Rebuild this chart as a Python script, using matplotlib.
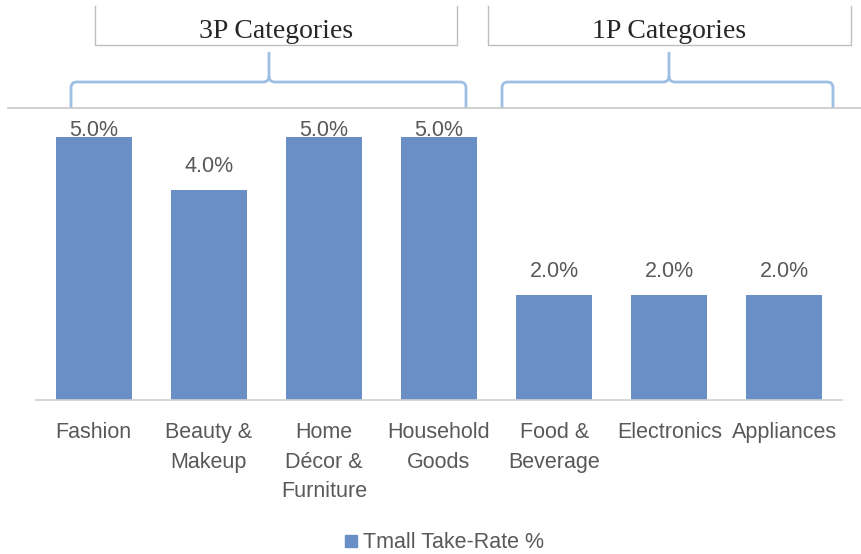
import matplotlib
matplotlib.use("Agg")
import matplotlib.pyplot as plt
from matplotlib.path import Path
from matplotlib.patches import PathPatch, Rectangle

categories = ["Fashion", "Beauty &\nMakeup", "Home\nDécor &\nFurniture", "Household\nGoods",
              "Food &\nBeverage", "Electronics", "Appliances"]
values = [5.0, 4.0, 5.0, 5.0, 2.0, 2.0, 2.0]
series_name = "Tmall Take-Rate %"
groups = ["3P Categories", "1P Categories"]

label_font = "Liberation Sans"
gray = "#595959"

W, H = 861, 554
fig = plt.figure(figsize=(W / 100, H / 100), dpi=100)
ax = fig.add_axes([36 / W, 1 - 400 / H, (842 - 36) / W, (400 - 108) / H])

bar_color = "#6a8fc6"
x = list(range(len(categories)))
ax.bar(x, values, width=0.66, color=bar_color, zorder=2)
ax.set_xlim(-0.5, len(categories) - 0.5)
ymax = 5.55
ax.set_ylim(0, ymax)

for xi, v in zip(x, values):
    yc = min(v + 0.44, ymax - 0.42)
    ax.text(xi, yc, f"{v:.1f}%", ha="center", va="center", fontsize=15.5,
            color=gray, family=label_font)

for s in ["top", "right", "left"]:
    ax.spines[s].set_visible(False)
ax.spines["bottom"].set_color("#d0d0d0")
ax.spines["bottom"].set_linewidth(1.2)
ax.set_yticks([])
ax.set_xticks(x)
ax.set_xticklabels(categories, fontsize=15.5, color=gray, family=label_font,
                   linespacing=1.52, va="top")
ax.tick_params(axis="x", length=0, pad=16)

# Top separator line
fig.add_artist(plt.Line2D([8 / W, 1.0], [1 - 108 / H, 1 - 108 / H],
                          transform=fig.transFigure, color="#c8c8c8", lw=1.2))

def P(px, py):
    return (px / W, 1 - py / H)

def brace(x0, x1, xm, y_base, y_mid, y_tip, r=6):
    verts = [P(x0, y_base), P(x0, y_mid + r), P(x0, y_mid), P(x0 + r, y_mid),
             P(xm - r, y_mid), P(xm, y_mid), P(xm, y_mid - r), P(xm, y_tip)]
    codes = [Path.MOVETO, Path.LINETO, Path.CURVE3, Path.CURVE3,
             Path.LINETO, Path.CURVE3, Path.CURVE3, Path.LINETO]
    verts2 = [P(x1, y_base), P(x1, y_mid + r), P(x1, y_mid), P(x1 - r, y_mid),
              P(xm + r, y_mid), P(xm, y_mid), P(xm, y_mid - r)]
    codes2 = [Path.MOVETO, Path.LINETO, Path.CURVE3, Path.CURVE3,
              Path.LINETO, Path.CURVE3, Path.CURVE3]
    for v, c in [(verts, codes), (verts2, codes2)]:
        fig.add_artist(PathPatch(Path(v, c), transform=fig.transFigure, fill=False,
                                 edgecolor="#9dbfe3", lw=2.0))

brace(71, 466, 269, 108, 82, 52)
brace(502, 833, 669, 108, 82, 52)

def box(x0, x1, y0, y1, text):
    fig.add_artist(plt.Line2D([x0 / W, x0 / W, x1 / W, x1 / W],
                              [1 - y0 / H, 1 - y1 / H, 1 - y1 / H, 1 - y0 / H],
                              transform=fig.transFigure, color="#bfbfbf", lw=1.0))
    fig.text((x0 + x1) / 2 / W, 1 - 32 / H, text, ha="center", va="center",
             fontsize=20, family="Liberation Serif", color="#262626")

box(95, 457, 6, 45, groups[0])
box(488, 851, 6, 45, groups[1])

# Legend
fig.add_artist(Rectangle(P(345, 547), 12 / W, 12 / H, transform=fig.transFigure,
                         color=bar_color))
fig.text(363 / W, 1 - 542 / H, series_name, ha="left", va="center", fontsize=15.5,
         family=label_font, color=gray)

fig.savefig("out.png", dpi=100)
